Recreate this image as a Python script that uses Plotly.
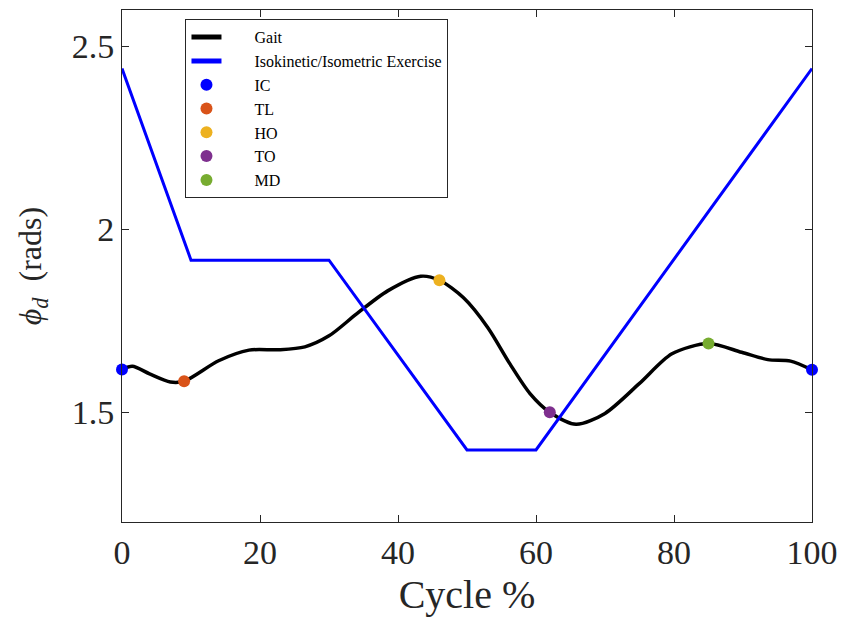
import plotly.graph_objects as go

# Gait curve
gait_x = [0, 1.5, 4, 7, 9, 14, 18.4, 22.7, 26.5, 30, 34, 38.5, 43.3, 46, 49.5, 53,
          56.2, 59.1, 62, 65.8, 70, 75, 79.7, 85, 89.8, 93.6, 96.9, 100]
gait_y = [1.617, 1.626, 1.605, 1.583, 1.585, 1.641, 1.670, 1.671, 1.679, 1.709, 1.769,
          1.832, 1.872, 1.861, 1.813, 1.732, 1.633, 1.552, 1.500, 1.467, 1.497, 1.579,
          1.660, 1.688, 1.664, 1.644, 1.640, 1.616]

# Isokinetic/Isometric exercise profile
exer_x = [0, 10, 30, 50, 60, 100]
exer_y = [2.44, 1.916, 1.916, 1.397, 1.397, 2.44]

# Gait events
ic_x = [0, 100]
ic_y = [1.617, 1.616]
tl_x = [9]
tl_y = [1.585]
ho_x = [46]
ho_y = [1.861]
to_x = [62]
to_y = [1.500]
md_x = [85]
md_y = [1.688]

x_ticks = [0, 20, 40, 60, 80, 100]
y_ticks = [1.5, 2, 2.5]

FONT = "Liberation Serif, Times New Roman, DejaVu Serif, serif"
PAD = "&nbsp;" * 7

fig = go.Figure()
fig.add_trace(go.Scatter(x=gait_x, y=gait_y, mode="lines", name=PAD + "Gait",
                         line=dict(color="black", width=3.5, shape="spline", smoothing=0.8)))
fig.add_trace(go.Scatter(x=exer_x, y=exer_y, mode="lines", name=PAD + "Isokinetic/Isometric Exercise",
                         line=dict(color="#0000ff", width=3)))
for nm, xs, ys, col in [("IC", ic_x, ic_y, "#0000ff"), ("TL", tl_x, tl_y, "#D95319"),
                        ("HO", ho_x, ho_y, "#EDB120"), ("TO", to_x, to_y, "#7E2F8E"),
                        ("MD", md_x, md_y, "#77AC30")]:
    fig.add_trace(go.Scatter(x=xs, y=ys, mode="markers", name=PAD + nm, cliponaxis=False,
                             marker=dict(color=col, size=12)))

axis_common = dict(showline=True, linecolor="#262626", linewidth=1, mirror="ticks",
                   ticks="inside", ticklen=7, tickcolor="#262626", showgrid=False,
                   zeroline=False, ticklabeloverflow="allow",
                   tickfont=dict(family=FONT, size=34, color="#262626"))

fig.update_xaxes(range=[0, 100], tickvals=x_ticks,
                 title=dict(text="Cycle %", font=dict(family=FONT, size=40, color="#262626"), standoff=10),
                 **axis_common)
fig.update_yaxes(range=[1.2, 2.6], tickvals=y_ticks, ticktext=[str(v) for v in y_ticks],
                 title=dict(text="<i>ϕ<sub>d</sub></i>  (rads)",
                            font=dict(family=FONT, size=32, color="#262626"), standoff=20),
                 **axis_common)

fig.update_layout(
    width=847, height=629,
    margin=dict(l=122, r=25, t=9, b=107),
    plot_bgcolor="white", paper_bgcolor="white",
    showlegend=True,
    legend=dict(x=0.092, y=0.982, xanchor="left", yanchor="top",
                bgcolor="white", bordercolor="#262626", borderwidth=1,
                font=dict(family=FONT, size=16, color="black"),
                tracegroupgap=0, itemsizing="constant"),
)

fig.write_html("out.html")
